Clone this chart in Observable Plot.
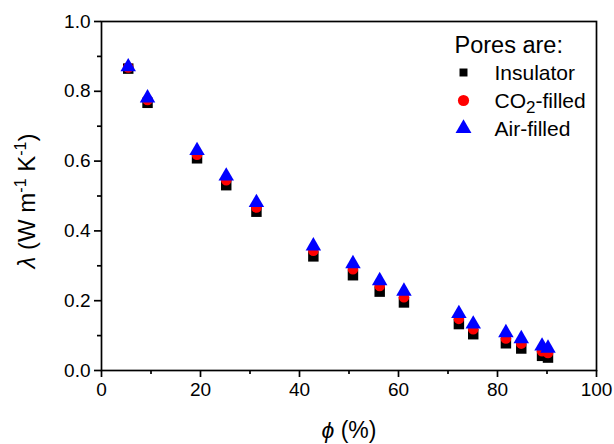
<!DOCTYPE html>
<html><head><meta charset="utf-8">
<script src="https://cdn.jsdelivr.net/npm/d3@7"></script>
<script src="https://cdn.jsdelivr.net/npm/@observablehq/plot@0.6"></script>
<style>body{margin:0;background:#fff} #chart{width:614px;height:444px}</style>
</head><body><div id="chart"></div>
<script>
// Porosity phi (%) and thermal conductivity lambda (W m-1 K-1)
const porosity  = [5.4, 9.3, 19.3, 25.2, 31.3, 42.8, 50.8, 56.2, 61.1, 72.2, 75.1, 81.7, 84.8, 89.0, 90.2];
const insulator = [0.865, 0.767, 0.608, 0.531, 0.455, 0.327, 0.273, 0.226, 0.195, 0.133, 0.104, 0.078, 0.063, 0.042, 0.037];
const co2Filled = [0.868, 0.775, 0.618, 0.545, 0.467, 0.343, 0.290, 0.242, 0.210, 0.148, 0.118, 0.092, 0.077, 0.055, 0.050];
const airFilled = [0.870, 0.781, 0.630, 0.557, 0.481, 0.357, 0.306, 0.257, 0.227, 0.163, 0.133, 0.108, 0.091, 0.070, 0.064];

const seriesNames = ["Insulator", "CO2-filled", "Air-filled"];
const seriesValues = [insulator, co2Filled, airFilled];
const seriesSymbols = ["square", "circle", "triangle"];
const seriesColors = ["#000000", "#ff0000", "#0000ff"];
const seriesR = [5.9, 5.3, 5.75];
const legendR = [4.5, 5.6, 5.9];

const xMajor = [0, 20, 40, 60, 80, 100];
const xMinor = [10, 30, 50, 70, 90];
const yMajor = [0, 0.2, 0.4, 0.6, 0.8, 1.0];
const yMinor = [0.1, 0.3, 0.5, 0.7, 0.9];

const legendTitle = "Pores are:";
const xTitle = "ϕ (%)";
const yTitle = "λ (W m-1 K-1)";

const sw = 1.7;
const marks = [
  Plot.axisX({ticks: xMinor, tickSize: 4, tickFormat: () => "", strokeWidth: sw, label: null}),
  Plot.axisX({ticks: xMajor, tickSize: 7, tickPadding: 5, strokeWidth: sw, label: null, tickFormat: d3.format("d")}),
  Plot.axisY({ticks: yMinor, tickSize: 4, tickFormat: () => "", strokeWidth: sw, label: null}),
  Plot.axisY({ticks: yMajor, tickSize: 7, tickPadding: 4, strokeWidth: sw, label: null, tickFormat: d3.format(".1f")}),
  Plot.frame({stroke: "#000", strokeWidth: sw})
];
seriesNames.forEach((name, k) => {
  const rows = porosity.map((p, i) => ({phi: p, lambda: seriesValues[k][i]}));
  marks.push(Plot.dot(rows, {x: "phi", y: "lambda", symbol: seriesSymbols[k], fill: seriesColors[k], stroke: "none", r: seriesR[k]}));
});
// legend
marks.push(Plot.text([legendTitle], {text: d => d, frameAnchor: "top-right", dx: -142, dy: 24, textAnchor: "start", lineAnchor: "middle", fontSize: 23.5, fill: "#000"}));
seriesNames.forEach((name, k) => {
  marks.push(Plot.dot([name], {frameAnchor: "top-right", dx: -133, dy: 51 + 28 * k, symbol: seriesSymbols[k], fill: seriesColors[k], stroke: "none", r: legendR[k]}));
  marks.push(Plot.text([name], {text: d => d, frameAnchor: "top-right", dx: -102, dy: 52 + 28 * k, textAnchor: "start", lineAnchor: "middle", fontSize: 21, fill: "#000"}));
});
// axis titles
marks.push(Plot.text([xTitle], {text: d => d, frameAnchor: "bottom", dy: 60, textAnchor: "middle", lineAnchor: "middle", fontSize: 23, fill: "#000"}));
marks.push(Plot.text([yTitle], {text: d => d, frameAnchor: "left", dx: -74, dy: 5, rotate: -90, textAnchor: "middle", lineAnchor: "middle", fontSize: 24, fill: "#000"}));

const chart = Plot.plot({
  width: 614, height: 444,
  marginLeft: 101, marginRight: 18, marginTop: 21, marginBottom: 74,
  style: {fontFamily: "'Liberation Sans', Arial, sans-serif", fontSize: "19px", color: "#000", background: "#fff"},
  x: {domain: [0, 100], label: null},
  y: {domain: [0, 1], label: null},
  marks
});
document.getElementById("chart").append(chart);

function rich(plain, html) {
  chart.querySelectorAll("text").forEach(t => { if (t.textContent === plain) t.innerHTML = html; });
}
rich(yTitle, '<tspan font-style="italic">λ</tspan> (W m<tspan dy="-9" font-size="16">-1</tspan><tspan dy="9"> K</tspan><tspan dy="-9" font-size="16">-1</tspan><tspan dy="9">)</tspan>');
rich(xTitle, '<tspan font-style="italic">ϕ</tspan> (%)');
rich("CO2-filled", 'CO<tspan dy="5" font-size="17">2</tspan><tspan dy="-5">-filled</tspan>');
</script>
</body></html>
